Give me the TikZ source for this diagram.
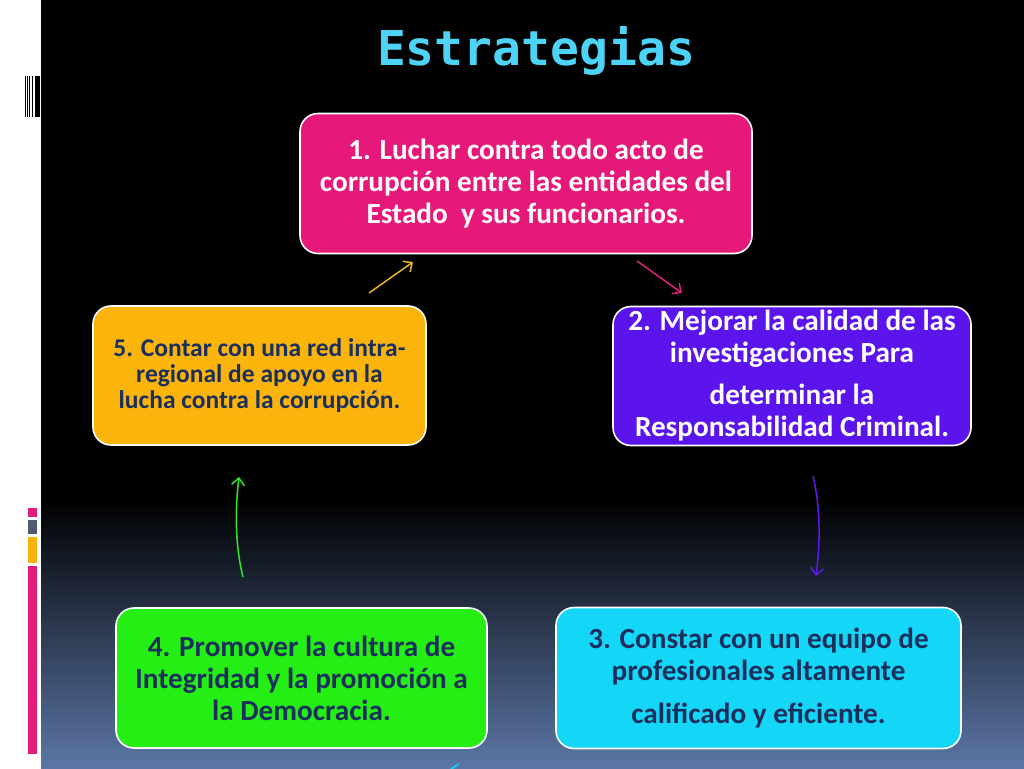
\documentclass[tikz,border=0pt]{standalone}
\usepackage{fontspec}
\setmainfont{Carlito}
\newfontfamily\titlefont{DejaVu Sans Mono}
\usetikzlibrary{arrows.meta}
\definecolor{bgblue}{HTML}{5B76A6}
\definecolor{titlecyan}{HTML}{4DD3F5}
\definecolor{boxpink}{HTML}{E6187A}
\definecolor{boxpurple}{HTML}{5B14EB}
\definecolor{boxorange}{HTML}{FBB40C}
\definecolor{boxgreen}{HTML}{24EE13}
\definecolor{boxcyan}{HTML}{14D6F7}
\definecolor{darktext}{HTML}{1B2F5C}
\definecolor{arryellow}{HTML}{E8B82A}
\definecolor{arrpink}{HTML}{E0207A}
\definecolor{arrpurple}{HTML}{5E1AE8}
\definecolor{arrgreen}{HTML}{2EE62A}
\definecolor{barpink}{HTML}{E31C79}
\definecolor{bargray}{HTML}{4F5B6E}
\definecolor{barorange}{HTML}{FBB40C}
\tikzset{
  box/.style={rectangle, rounded corners=18pt, draw=white, line width=1.6pt,
    align=center, inner sep=0pt, font=\bfseries\fontsize{29.2}{32}\selectfont},
  arr/.style={line width=1.5pt, -{Straight Barb[length=7pt,width=13pt]}},
}
\begin{document}
\begin{tikzpicture}[x=1pt,y=-1pt]
\useasboundingbox (0,0) rectangle (1024,768);
\clip (0,0) rectangle (1024,768);
% background
\fill[white] (0,0) rectangle (41,768);
\fill[black] (41,0) rectangle (1024,500);
\shade[top color=black, bottom color=bgblue] (41,499) rectangle (1024,768);
% barcode
\foreach \a/\b in {24.5/25.5, 26.7/27.6, 28.7/30.3, 32/33.3, 34.7/40}
  \fill[black] (\a,76) rectangle (\b,117);
% colour bars
\fill[barpink] (28,508) rectangle (37,517);
\fill[bargray] (28,520) rectangle (37,534);
\fill[barorange] (28,537) rectangle (37,563);
\fill[barpink] (28,566) rectangle (37,754);
% title
\node[font=\titlefont\bfseries\fontsize{48}{52}\selectfont, text=titlecyan, anchor=base, inner sep=0pt] (title) at (536,66) {Estrategias};
% boxes
\node[box, fill=boxpink, text=white, minimum width=452pt, minimum height=140pt] (b1) at (526,183.5) {1. Luchar contra todo acto de\\ corrupción entre las entidades del\\ Estado\ \ y sus funcionarios.};
\node[box, fill=boxpurple, text=white, minimum width=358pt, minimum height=139pt] (b2) at (792,376) {2. Mejorar la calidad de las\\ investigaciones Para\\[10pt] determinar la\\ Responsabilidad Criminal.};
\node[box, fill=boxorange, text=darktext, minimum width=333pt, minimum height=139pt, font=\bfseries\fontsize{25.5}{26}\selectfont] (b5) at (259.5,375.5) {5. Contar con una red intra-\\ regional de apoyo en la\\ lucha contra la corrupción.};
\node[box, fill=boxgreen, text=darktext, minimum width=371pt, minimum height=140pt] (b4) at (301.5,678) {4. Promover la cultura de\\ Integridad y la promoción a\\ la Democracia.};
\node[box, fill=boxcyan, text=darktext, minimum width=405pt, minimum height=141pt] (b3) at (758.5,678) {3. Constar con un equipo de\\ profesionales altamente\\[11pt] calificado y eficiente.};
% arrow end points
\coordinate (y1) at (369,293); \coordinate (y2) at (413,262);
\coordinate (p1) at (637,261); \coordinate (p2) at (682,293);
\coordinate (u1) at (813,476); \coordinate (u2) at (816,576);
\coordinate (g1) at (243,577); \coordinate (g2) at (239,477);
\coordinate (c1) at (614,772); \coordinate (c2) at (450,769);
% arrows
\draw[arr, arryellow] (y1) -- (y2);
\draw[arr, arrpink] (p1) -- (p2);
\draw[arr, arrpurple] (u1) .. controls (821,510) and (820,545) .. (u2);
\draw[arr, arrgreen] (g1) .. controls (235,545) and (235,510) .. (g2);
\draw[arr, boxcyan] (c1) .. controls (570,790) and (500,776) .. (c2);
\end{tikzpicture}
\end{document}
